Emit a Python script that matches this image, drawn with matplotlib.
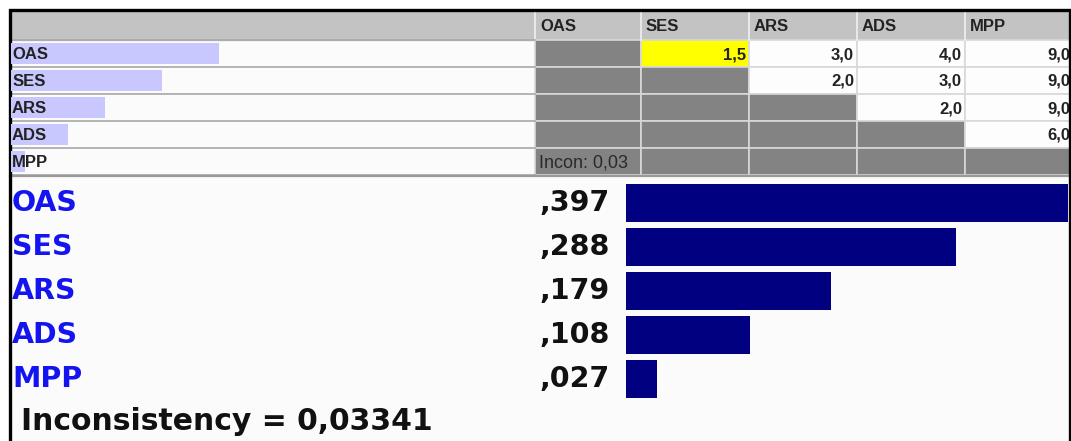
import matplotlib.pyplot as plt
import matplotlib.patches as patch
import numpy as np

names = ['OAS', 'SES', 'ARS', 'ADS', 'MPP']
priorities = [0.397, 0.288, 0.179, 0.108, 0.027]
# upper triangle of the pairwise comparison matrix (row item vs column item)
comparisons = [
    [None, 1.5, 3.0, 4.0, 9.0],
    [None, None, 2.0, 3.0, 9.0],
    [None, None, None, 2.0, 9.0],
    [None, None, None, None, 6.0],
    [None, None, None, None, None],
]
highlight = (0, 1)
incon_short = 'Incon: 0,03'
incon_text = 'Inconsistency = 0,03341'

W, H = 1071, 441


def box(x0, y0, x1, y1):
    return [x0 / W, 1 - y1 / H, (x1 - x0) / W, (y1 - y0) / H]


def fmt_priority(v):
    return ('%.3f' % v).lstrip('0').replace('.', ',')


def fmt_cell(v):
    return ('%.1f' % v).replace('.', ',')


fig = plt.figure(figsize=(W / 100, H / 100), dpi=100)
fig.patch.set_facecolor('white')

ax = fig.add_axes([0, 0, 1, 1])
ax.set_xlim(0, W)
ax.set_ylim(H, 0)
ax.axis('off')

table_font = 'Liberation Sans'
row_edges = [40, 67, 94, 121, 148, 175]
col_edges = [535, 641, 749, 857, 965, 1073]

# backgrounds
ax.add_patch(patch.Rectangle((10, 10), 1060, 431, color='#fbfbfb', zorder=0))
ax.add_patch(patch.Rectangle((10, 11), 1060, row_edges[0] - 11, color='#c3c3c3', zorder=1))

# matrix cells
for i in range(len(names)):
    y0, y1 = row_edges[i], row_edges[i + 1]
    for j in range(len(names)):
        x0, x1 = col_edges[j], col_edges[j + 1]
        val = comparisons[i][j]
        if (i, j) == highlight:
            fc = '#ffff00'
        elif val is None:
            fc = '#838383'
        else:
            fc = '#fdfdfd'
        ax.add_patch(patch.Rectangle((x0, y0), x1 - x0, y1 - y0, facecolor=fc,
                                     edgecolor='#d8d8d8', lw=1.2, zorder=2))
        if val is not None:
            ax.text(x1 - 3, (y0 + y1) / 2 + 1, fmt_cell(val), ha='right', va='center',
                    fontsize=12, fontweight='bold', family=table_font, color='#222222', zorder=3)
ax.text(col_edges[0] + 4, (row_edges[-2] + row_edges[-1]) / 2 + 1, incon_short,
        ha='left', va='center', fontsize=13, family=table_font, color='#2a2a2a', zorder=3)

# header
for j, n in enumerate(names):
    ax.plot([col_edges[j], col_edges[j]], [11, row_edges[0]], color='#f0f0f0', lw=1.2, zorder=2)
    ax.text(col_edges[j] + 5, (11 + row_edges[0]) / 2 + 1, n, ha='left', va='center',
            fontsize=12, fontweight='bold', family=table_font, color='#222222', zorder=3)

# left column row separators
for y in row_edges:
    ax.plot([10, col_edges[0]], [y, y], color='#a8a8a8', lw=1.2, zorder=2)
ax.plot([10, W], [row_edges[-1] + 1, row_edges[-1] + 1], color='#9a9a9a', lw=1.6, zorder=2)

# light priority bars in the label column
ax_l = fig.add_axes(box(11, row_edges[0], col_edges[0], row_edges[-1]))
ax_l.barh(np.arange(len(names)), priorities, height=0.78, color='#c8c8ff', zorder=1)
ax_l.set_xlim(0, 1)
ax_l.set_ylim(len(names) - 0.5, -0.5)
ax_l.axis('off')
for i, n in enumerate(names):
    ax_l.text(0.002, i + 0.05, n, ha='left', va='center', fontsize=12, fontweight='bold',
              family=table_font, color='#222222', zorder=3)

# main priority bars
ax_b = fig.add_axes(box(626, 181, 1068, 401))
ax_b.barh(np.arange(len(names)), priorities, height=38 / 44, color='#000080')
ax_b.set_xlim(0, 442 / 1147)
ax_b.set_ylim(len(names) - 0.5, -0.5)
ax_b.axis('off')

for i, (n, v) in enumerate(zip(names, priorities)):
    y = 203 + 44 * i
    ax.text(12, y, n, ha='left', va='center', fontsize=20.5, fontweight='bold',
            color='#1414f0', zorder=3)
    ax.text(610, y, fmt_priority(v), ha='right', va='center', fontsize=20.5,
            fontweight='bold', color='#111111', zorder=3)

ax.text(21, 421, incon_text, ha='left', va='center', fontsize=21.5, fontweight='bold',
        color='#111111', zorder=3)

# window frame
ax.plot([9.5, 9.5, 1069.5, 1069.5], [H, 9.5, 9.5, H], color='black', lw=2.4,
        solid_joinstyle='miter', zorder=5)

fig.savefig('out.png', dpi=100)
